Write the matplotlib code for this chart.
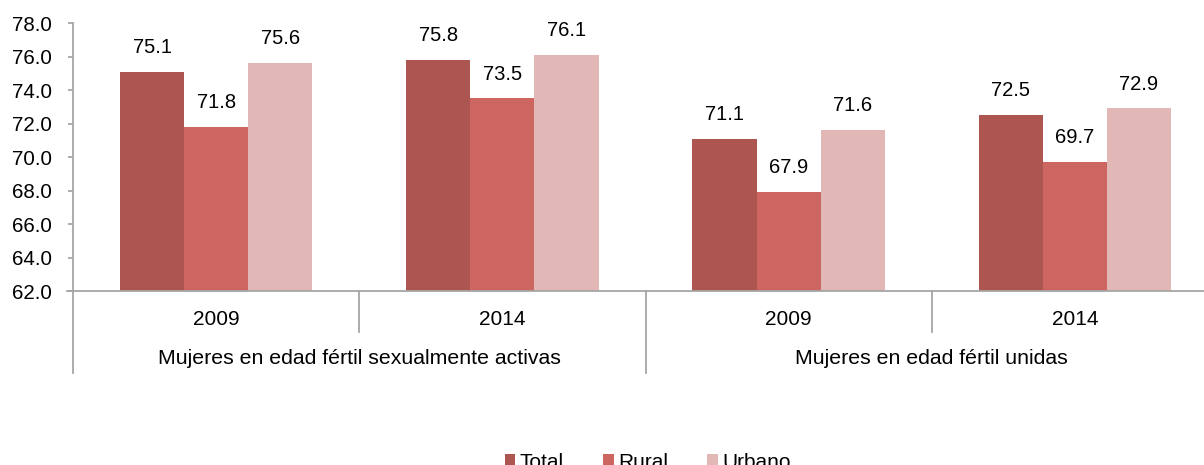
import matplotlib.pyplot as plt
import matplotlib.transforms as mtransforms
import numpy as np

plt.rcParams['font.family'] = ['Liberation Sans', 'DejaVu Sans']

years = ["2009", "2014", "2009", "2014"]
groups = ["Mujeres en edad fértil sexualmente activas", "Mujeres en edad fértil unidas"]
series_names = ["Total", "Rural", "Urbano"]
total = [75.1, 75.8, 71.1, 72.5]
rural = [71.8, 73.5, 67.9, 69.7]
urbano = [75.6, 76.1, 71.6, 72.9]
colors = ["#ad5550", "#cd6660", "#e2b8b7"]
yticks = np.arange(62, 78.1, 2)

fig = plt.figure(figsize=(12.04, 4.65), dpi=100)
ax = fig.add_axes([73 / 1204, 1 - 291 / 465, 1145 / 1204, 268 / 465])

x = np.arange(len(years))
w = 0.224
for i, (vals, name, col) in enumerate(zip([total, rural, urbano], series_names, colors)):
    pos = x + (i - 1) * w
    ax.bar(pos, np.array(vals) - 62, width=w, bottom=62, color=col, label=name, zorder=2)
    for xp, v in zip(pos, vals):
        ax.annotate(f"{v:.1f}", (xp, v), xytext=(0, 13.5), textcoords="offset points",
                    ha="center", va="baseline", fontsize=14.5, color="black")

ax.set_xlim(-0.5, len(years) - 0.5)
ax.set_ylim(62, 78)
ax.set_yticks(yticks)
ax.set_yticklabels([f"{t:.1f}" for t in yticks], fontsize=14.8)
ax.set_xticks([])
gray = "#a6a6a6"
for s in ["top", "right"]:
    ax.spines[s].set_visible(False)
for s in ["left", "bottom"]:
    ax.spines[s].set_color(gray)
    ax.spines[s].set_linewidth(1.3)
ax.tick_params(axis="y", length=3.8, color=gray, width=1.3, pad=11.5)

trans = mtransforms.blended_transform_factory(ax.transData, ax.transAxes)
# category separators
for b in [0.5, 2.5]:
    ax.plot([b, b], [0, -0.153], transform=trans, color=gray, lw=1.3, clip_on=False)
for b in [-0.5, 1.5]:
    ax.plot([b, b], [0, -0.306], transform=trans, color=gray, lw=1.3, clip_on=False)
ax.plot([-0.52, -0.5], [0, 0], transform=trans, color=gray, lw=1.3, clip_on=False)

for xi, yr in zip(x, years):
    ax.text(xi, -0.106, yr, transform=trans, ha="center", va="center", fontsize=15)
for gi, g in enumerate(groups):
    ax.text(2 * gi + 0.5, -0.25, g, transform=trans, ha="center", va="center", fontsize=15.3)

fig.legend(loc="center", bbox_to_anchor=(0.538, 0.006), ncol=3, frameon=False,
           fontsize=15, handlelength=0.5, handleheight=0.5, handletextpad=0.2,
           columnspacing=1.9)

fig.savefig("out.png", dpi=100)
